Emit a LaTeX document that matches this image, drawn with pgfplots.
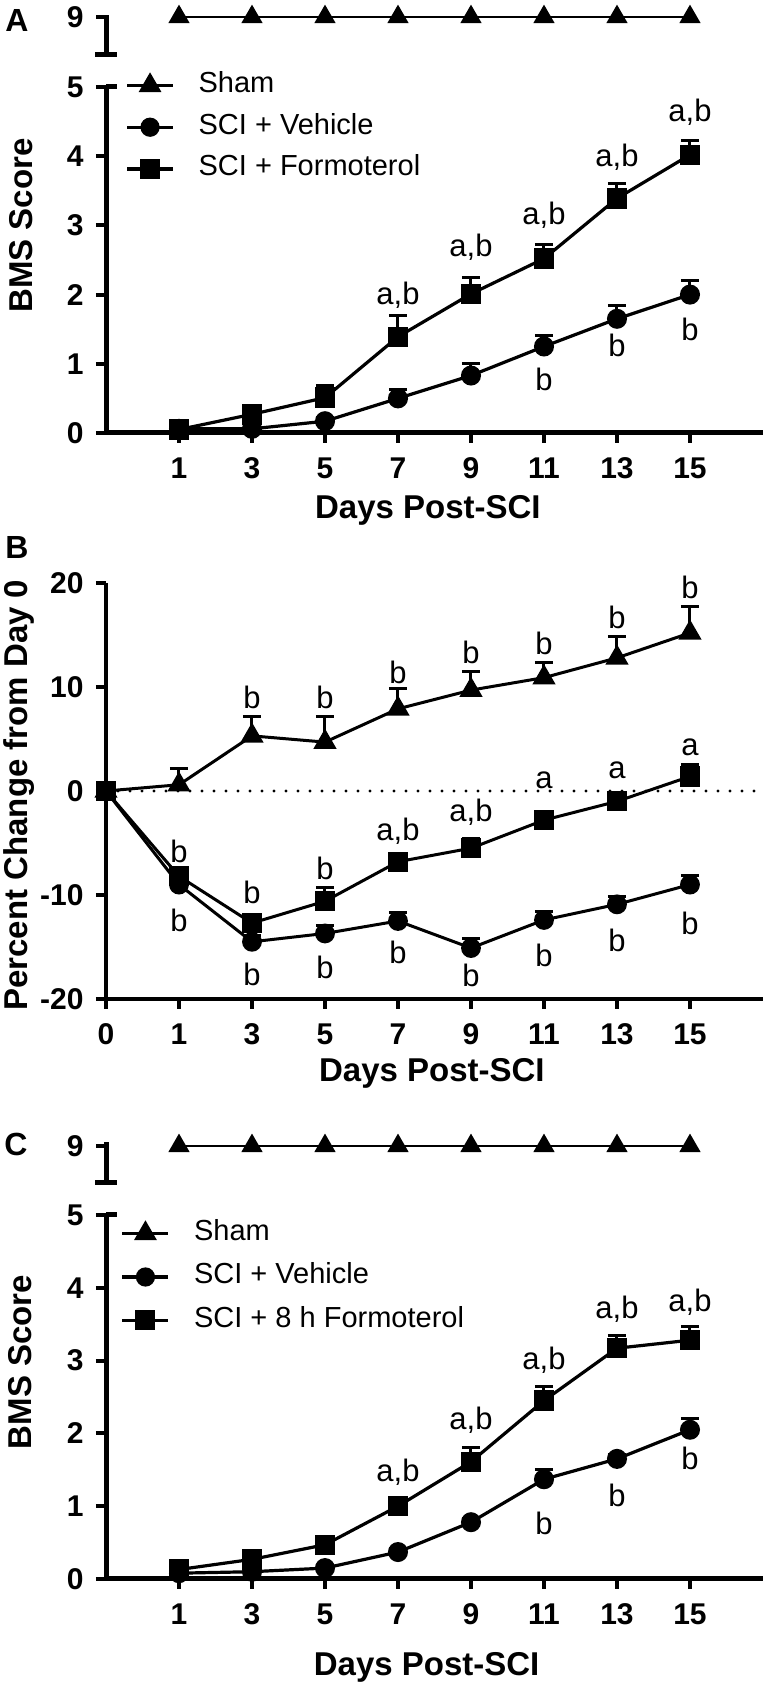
\documentclass[border=0pt]{standalone}
\usepackage{fontspec}
\setmainfont{Liberation Sans}
\usepackage{pgfplots}
\usepackage{pgfplotstable}
\pgfplotsset{compat=1.18}

\newcommand\tickfont{\fontsize{15}{15}\selectfont\bfseries}
\newcommand\labfont{\fontsize{16.5}{16.5}\selectfont\bfseries}
\newcommand\legfont{\fontsize{14.5}{14.5}\selectfont}
\newcommand\annfont{\fontsize{15.5}{15.5}\selectfont}
\newcommand\panfont{\fontsize{16}{16}\selectfont\bfseries}

% Panel A: x index 1..8 = days 1,3,...,15
\pgfplotstableread{
x veh vehe form forme
1 0.06 0.05 0.05 0.03
2 0.06 0.03 0.27 0.08
3 0.17 0.05 0.51 0.18
4 0.50 0.13 1.39 0.31
5 0.83 0.17 2.01 0.23
6 1.25 0.16 2.52 0.20
7 1.65 0.19 3.39 0.22
8 2.00 0.21 4.02 0.21
}\dataA
\pgfplotstableread{
x y
1 9
2 9
3 9
4 9
5 9
6 9
7 9
8 9
}\shamTop
% Panel B: x index 0..8 = days 0,1,3,...,15
\pgfplotstableread{
x sham shame veh vehe form forme
0 0 0 0 0 0 0
1 0.6 1.6 -9.0 0.5 -8.2 0.6
2 5.3 1.9 -14.5 0.6 -12.7 0.8
3 4.7 2.5 -13.7 0.8 -10.6 1.3
4 7.9 2.0 -12.5 0.8 -6.8 0.7
5 9.7 1.8 -15.1 0.9 -5.5 0.9
6 10.9 1.5 -12.4 0.8 -2.8 0.8
7 12.8 2.1 -10.9 0.8 -1.0 0.9
8 15.2 2.5 -9.0 0.9 1.4 1.1
}\dataB
% Panel C
\pgfplotstableread{
x veh vehe form forme
1 0.08 0.03 0.13 0.03
2 0.10 0.03 0.27 0.04
3 0.15 0.03 0.47 0.05
4 0.37 0.05 1.00 0.07
5 0.78 0.05 1.61 0.20
6 1.37 0.14 2.45 0.19
7 1.65 0.06 3.17 0.18
8 2.05 0.16 3.28 0.19
}\dataC

\pgfplotsset{
  panel/.style={scale only axis, clip=false, xmin=0, xmax=9, width=328.5pt,
    axis x line*=bottom, axis y line*=left,
    axis line style={line width=2.5pt, black},
    tick style={line width=2pt, black},
    major tick length=5pt, tick align=outside,
    ticklabel style={font=\tickfont},
    yticklabel={\tickfont\pgfmathprintnumber{\tick}},
    yticklabel style={anchor=east, inner sep=0pt, xshift=-6pt},
    xticklabel style={anchor=north, inner sep=0pt, yshift=-7pt},
    /pgf/number format/assume math mode=true,
    label style={font=\labfont},
  },
  ser/.style={black, line width=1.6pt, mark options={solid, fill=black},
    error bars/y dir=plus, error bars/y explicit,
    error bars/error bar style={line width=1.5pt, black},
    error bars/error mark options={rotate=90, mark size=4.5pt, line width=1.5pt, black}},
  circ/.style={ser, mark=*, mark size=4.2pt},
  sq/.style={ser, mark=square*, mark size=4.3pt},
  tri/.style={ser, mark=triangle*, mark size=5.2pt},
  leg/.style={legend cell align=left,
    legend image code/.code={\draw[mark repeat=2,mark phase=2,##1] plot coordinates {(0pt,0pt) (11.5pt,0pt) (23pt,0pt)};},
    legend style={draw=none, fill=none, font=\legfont, inner sep=0pt, row sep=7.85pt,
      nodes={inner sep=0pt, text height=10pt, text depth=3pt},
      /tikz/every odd column/.append style={column sep=12pt}}},
}

\begin{document}
\begin{tikzpicture}
\useasboundingbox (0,0) rectangle (385pt,845.5pt);

% ---------- Panel A ----------
\node at (8.5pt,835pt) {\panfont A};
\begin{axis}[panel, at={(53pt,818pt)}, anchor=south west, height=20pt,
  axis x line=none, ymin=8.45, ymax=9.03, ytick={9}]
  \addplot[tri, line width=1pt] table[x=x, y=y] {\shamTop};
  \draw[line width=2.5pt] ([xshift=-5.5pt]rel axis cs:0,0) -- ([xshift=5.5pt]rel axis cs:0,0);
\end{axis}
\begin{axis}[panel, leg, at={(53pt,629pt)}, anchor=south west, height=173pt,
  ymin=0, ymax=5, ytick={0,1,2,3,4,5},
  xtick={1,2,3,4,5,6,7,8},
  xticklabels={{\tickfont 1},{\tickfont 3},{\tickfont 5},{\tickfont 7},{\tickfont 9},{\tickfont 11},{\tickfont 13},{\tickfont 15}},
  xlabel={\labfont Days Post-SCI}, ylabel={\labfont BMS Score},
  xlabel style={at={(axis description cs:0.49,0)}, anchor=center, yshift=-38.5pt},
  ylabel style={at={(axis description cs:-0.129,0.6)}, anchor=center},
  legend style={at={(axis description cs:0.029,1.043)}, anchor=north west}]
  \addlegendimage{black, line width=1.6pt, mark=triangle*, mark size=5pt, mark options={fill=black}}
  \addlegendentry{\legfont Sham}
  \addlegendimage{black, line width=1.6pt, mark=*, mark size=4pt, mark options={fill=black}}
  \addlegendentry{\legfont SCI + Vehicle}
  \addlegendimage{black, line width=1.6pt, mark=square*, mark size=4.2pt, mark options={fill=black}}
  \addlegendentry{\legfont SCI + Formoterol}
  \addplot[circ, forget plot] table[x=x, y=veh, y error=vehe] {\dataA};
  \addplot[sq, forget plot] table[x=x, y=form, y error=forme] {\dataA};
  \draw[line width=2.5pt] (rel axis cs:0,1) -- ++(5.5pt,0);
  \node at (axis cs:4,1.99) {\annfont a,b};
  \node at (axis cs:5,2.69) {\annfont a,b};
  \node at (axis cs:6,3.15) {\annfont a,b};
  \node at (axis cs:7,3.99) {\annfont a,b};
  \node at (axis cs:8,4.64) {\annfont a,b};
  \node at (axis cs:6,0.77) {\annfont b};
  \node at (axis cs:7,1.27) {\annfont b};
  \node at (axis cs:8,1.49) {\annfont b};
\end{axis}

% ---------- Panel B ----------
\node at (8.5pt,571.5pt) {\panfont B};
\begin{axis}[panel, at={(53pt,346pt)}, anchor=south west, height=208pt,
  axis line style={line width=1.6pt}, tick style={line width=1.7pt},
  ymin=-20, ymax=20, ytick={-20,-10,0,10,20},
  xtick={0,1,2,3,4,5,6,7,8},
  xticklabels={{\tickfont 0},{\tickfont 1},{\tickfont 3},{\tickfont 5},{\tickfont 7},{\tickfont 9},{\tickfont 11},{\tickfont 13},{\tickfont 15}},
  xlabel={\labfont Days Post-SCI}, ylabel={\labfont Percent Change from Day 0},
  xlabel style={at={(axis description cs:0.496,0)}, anchor=center, yshift=-37pt},
  ylabel style={at={(axis description cs:-0.132,0.49)}, anchor=center}]
  \addplot[line width=1.7pt, dash pattern=on 0pt off 6pt, line cap=round, forget plot] coordinates {(0,0) (9,0)};
  \addplot[tri, line width=1.5pt] table[x=x, y=sham, y error=shame] {\dataB};
  \addplot[circ, line width=1.5pt] table[x=x, y=veh, y error=vehe] {\dataB};
  \addplot[sq, line width=1.5pt] table[x=x, y=form, y error=forme] {\dataB};
  \node at (axis cs:2,9.0) {\annfont b};
  \node at (axis cs:3,9.0) {\annfont b};
  \node at (axis cs:4,11.4) {\annfont b};
  \node at (axis cs:5,13.3) {\annfont b};
  \node at (axis cs:6,14.2) {\annfont b};
  \node at (axis cs:7,16.7) {\annfont b};
  \node at (axis cs:8,19.6) {\annfont b};
  \node at (axis cs:1,-5.8) {\annfont b};
  \node at (axis cs:2,-9.8) {\annfont b};
  \node at (axis cs:3,-7.4) {\annfont b};
  \node at (axis cs:4,-3.9) {\annfont a,b};
  \node at (axis cs:5,-2.0) {\annfont a,b};
  \node at (axis cs:6,1.06) {\annfont a};
  \node at (axis cs:7,2.0) {\annfont a};
  \node at (axis cs:8,4.2) {\annfont a};
  \node at (axis cs:1,-12.4) {\annfont b};
  \node at (axis cs:2,-17.6) {\annfont b};
  \node at (axis cs:3,-17.0) {\annfont b};
  \node at (axis cs:4,-15.5) {\annfont b};
  \node at (axis cs:5,-17.7) {\annfont b};
  \node at (axis cs:6,-15.8) {\annfont b};
  \node at (axis cs:7,-14.4) {\annfont b};
  \node at (axis cs:8,-12.7) {\annfont b};
\end{axis}

% ---------- Panel C ----------
\node at (8pt,273.5pt) {\panfont C};
\begin{axis}[panel, at={(53pt,254pt)}, anchor=south west, height=20.5pt,
  axis x line=none, ymin=8.49, ymax=9.055, ytick={9}]
  \addplot[tri, line width=1pt] table[x=x, y=y] {\shamTop};
  \draw[line width=2.5pt] ([xshift=-5.5pt]rel axis cs:0,0) -- ([xshift=5.5pt]rel axis cs:0,0);
\end{axis}
\begin{axis}[panel, leg, at={(53pt,56pt)}, anchor=south west, height=182pt,
  ymin=0, ymax=5, ytick={0,1,2,3,4,5},
  xtick={1,2,3,4,5,6,7,8},
  xticklabels={{\tickfont 1},{\tickfont 3},{\tickfont 5},{\tickfont 7},{\tickfont 9},{\tickfont 11},{\tickfont 13},{\tickfont 15}},
  xlabel={\labfont Days Post-SCI}, ylabel={\labfont BMS Score},
  xlabel style={at={(axis description cs:0.488,0)}, anchor=center, yshift=-44pt},
  ylabel style={at={(axis description cs:-0.131,0.596)}, anchor=center},
  legend style={at={(axis description cs:0.022,0.986)}, anchor=north west, row sep=8.75pt}]
  \addlegendimage{black, line width=1.6pt, mark=triangle*, mark size=5pt, mark options={fill=black}}
  \addlegendentry{\legfont Sham}
  \addlegendimage{black, line width=1.6pt, mark=*, mark size=4pt, mark options={fill=black}}
  \addlegendentry{\legfont SCI + Vehicle}
  \addlegendimage{black, line width=1.6pt, mark=square*, mark size=4.2pt, mark options={fill=black}}
  \addlegendentry{\legfont SCI + 8 h Formoterol}
  \addplot[circ, forget plot] table[x=x, y=veh, y error=vehe] {\dataC};
  \addplot[sq, forget plot] table[x=x, y=form, y error=forme] {\dataC};
  \draw[line width=2.5pt] (rel axis cs:0,1) -- ++(5.5pt,0);
  \node at (axis cs:4,1.46) {\annfont a,b};
  \node at (axis cs:5,2.18) {\annfont a,b};
  \node at (axis cs:6,3.0) {\annfont a,b};
  \node at (axis cs:7,3.70) {\annfont a,b};
  \node at (axis cs:8,3.80) {\annfont a,b};
  \node at (axis cs:6,0.77) {\annfont b};
  \node at (axis cs:7,1.15) {\annfont b};
  \node at (axis cs:8,1.66) {\annfont b};
\end{axis}
\end{tikzpicture}
\end{document}
